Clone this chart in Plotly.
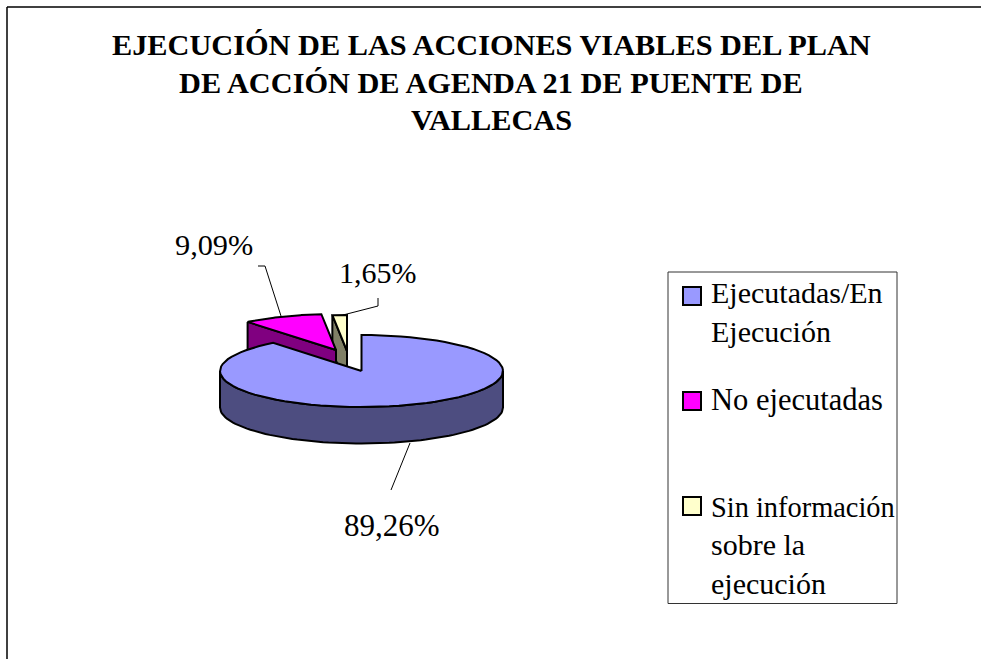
import math
import plotly.graph_objects as go

# --- data ---
categories = ["Ejecutadas/En Ejecución", "No ejecutadas", "Sin información sobre la ejecución"]
values = [89.26, 9.09, 1.65]
value_labels = ["89,26%", "9,09%", "1,65%"]
title_lines = ["EJECUCIÓN DE LAS ACCIONES VIABLES DEL PLAN",
               "DE ACCIÓN DE AGENDA 21 DE PUENTE DE",
               "VALLECAS"]
legend_lines = [["Ejecutadas/En", "Ejecución"], ["No ejecutadas"],
                ["Sin información", "sobre la", "ejecución"]]

# --- style / layout ---
top_colors = ["#9999FF", "#FF00FF", "#FFFFCC"]
wall_colors = ["#4D4D80", "#800080", "#808066"]
CX, CY, RX, RY, DEPTH = 361.5, 371, 141.5, 36, 36.5
explode = [(0, 0), (-25.5, -21), (-14.5, -20)]
FONT = "Liberation Serif"
LW = 2

def pt(t, ox=0, oy=0, dz=0):
    r = math.radians(t)
    return CX + ox + RX * math.sin(r), CY + oy - RY * math.cos(r) + dz

def arc(a, b, ox=0, oy=0, dz=0, n=80):
    return [pt(a + (b - a) * i / n, ox, oy, dz) for i in range(n + 1)]

fig = go.Figure()

def poly(points, fill):
    xs = [p[0] for p in points] + [points[0][0]]
    ys = [p[1] for p in points] + [points[0][1]]
    fig.add_trace(go.Scatter(x=xs, y=ys, mode="lines", fill="toself", fillcolor=fill,
                             line=dict(color="black", width=LW), hoverinfo="skip", showlegend=False))

total = sum(values)
starts, a = [], 0.0
for v in values:
    starts.append((a, a + 360 * v / total))
    a += 360 * v / total

# draw order: smallest slice behind, main slice in front
for i in [2, 1, 0]:
    s, e = starts[i]
    ox, oy = explode[i]
    tip = (CX + ox, CY + oy)
    tip_low = (CX + ox, CY + oy + DEPTH)
    if i > 0:
        poly([pt(s, ox, oy), tip, tip_low, pt(s, ox, oy, DEPTH)], wall_colors[i])
    else:
        poly(arc(90, 270) + arc(270, 90, dz=DEPTH), wall_colors[i])
    poly([tip] + arc(s, e, ox, oy), top_colors[i])

shapes = [
    dict(type="line", x0=7, x1=981, y0=7, y1=7, line=dict(color="black", width=1.5)),
    dict(type="line", x0=7, x1=7, y0=7, y1=659, line=dict(color="black", width=1.5)),
    dict(type="rect", x0=668, x1=897, y0=272, y1=603.5, line=dict(color="#333333", width=1)),
]
for color, y0 in zip(top_colors, [287, 392, 497]):
    shapes.append(dict(type="rect", x0=683, x1=701, y0=y0, y1=y0 + 18, fillcolor=color,
                       line=dict(color="black", width=2)))

# leader lines
leaders = [[(410, 443), (391, 490)],
           [(258, 266), (265, 266), (281, 316)],
           [(378, 298), (378, 306), (343, 315)]]
for l in leaders:
    fig.add_trace(go.Scatter(x=[p[0] for p in l], y=[p[1] for p in l], mode="lines",
                             line=dict(color="black", width=1), hoverinfo="skip", showlegend=False))

ann = []
def text(s, x, y, size, anchor="center", bold=False):
    ann.append(dict(text=f"<b>{s}</b>" if bold else s, x=x, y=y, xref="x", yref="y", showarrow=False,
                    xanchor=anchor, yanchor="middle",
                    font=dict(family=FONT, size=size, color="black")))

for s, y in zip(title_lines, [45, 83, 120]):
    text(s, 491, y, 30.3, bold=True)
for s, (x, y, size) in zip(value_labels, [(392, 525, 31), (214, 245, 30.3), (378, 272, 30)]):
    text(s, x, y, size)
for lines, ys, sizes in zip(legend_lines, [[292, 331], [400], [507, 544, 583]], [[30, 30], [30.5], [28.4, 30, 30]]):
    for s, y, size in zip(lines, ys, sizes):
        text(s, 708.5, y, size, anchor="left")

fig.update_layout(
    width=981, height=659, margin=dict(l=0, r=0, t=0, b=0),
    paper_bgcolor="white", plot_bgcolor="white", showlegend=False,
    xaxis=dict(range=[0, 981], visible=False, fixedrange=True),
    yaxis=dict(range=[659, 0], visible=False, fixedrange=True),
    shapes=shapes, annotations=ann,
)
fig.write_html("out.html", config={"displayModeBar": False},
               post_script="document.body.style.margin='0';document.body.style.overflow='hidden';")
